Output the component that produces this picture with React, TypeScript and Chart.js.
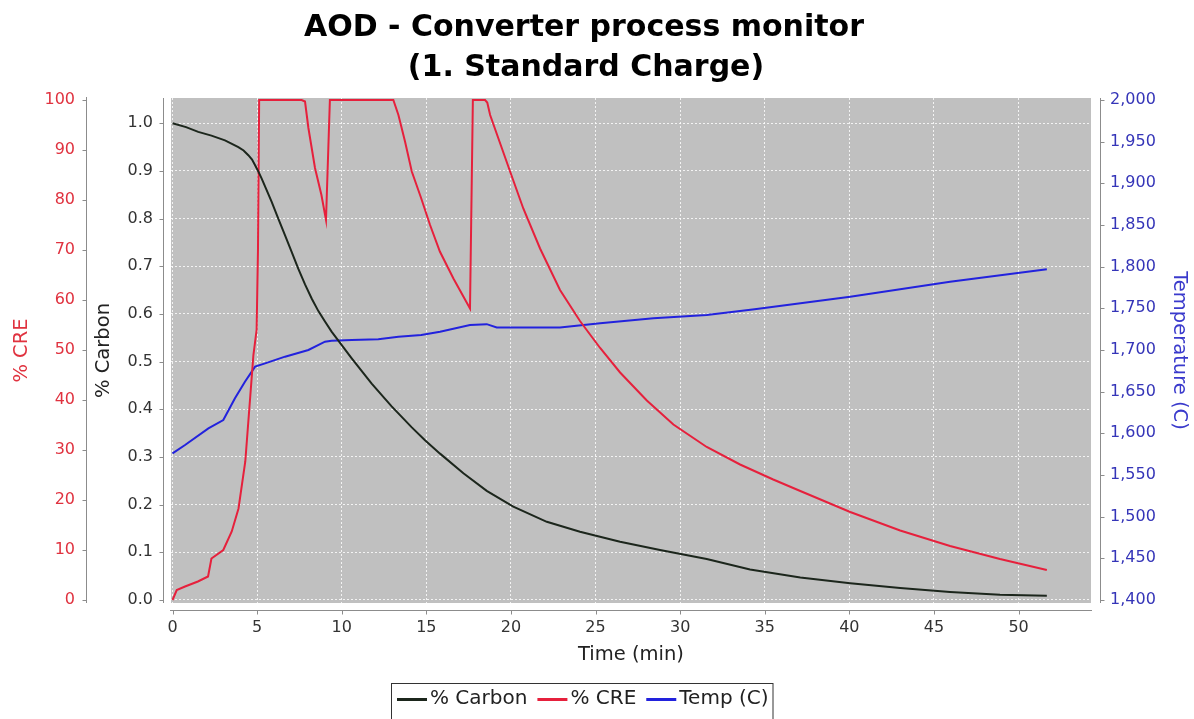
import React, { useEffect, useRef } from "react";
import { Chart, registerables } from "chart.js";

Chart.register(...registerables);

const TITLE_LINES = ["AOD - Converter process monitor", "(1. Standard Charge)"];
const SERIES_NAMES = ["% Carbon", "% CRE", "Temp (C)"];
const SERIES_COLORS = ["#1c261c", "#e6203c", "#2222dd"];

// % Carbon
const carbonTime = [0, 0.8, 1.52, 2.3, 3.1, 3.89, 4.2, 4.48, 4.7, 4.88, 5.07, 5.27, 5.55, 5.86, 6.25, 6.65, 7.04, 7.43, 7.83, 8.23, 8.62, 9.01, 9.4, 9.8, 10.59, 11.77, 12.95, 14.14, 14.92, 15.81, 17.19, 18.57, 20.14, 22.12, 24.08, 26.45, 28.81, 31.57, 34.13, 37.1, 40.05, 43.0, 45.95, 48.9, 51.67];
const carbonValues = [1.0, 0.992, 0.982, 0.974, 0.964, 0.95, 0.943, 0.933, 0.924, 0.912, 0.899, 0.884, 0.861, 0.835, 0.8, 0.765, 0.73, 0.695, 0.662, 0.632, 0.606, 0.584, 0.563, 0.544, 0.507, 0.454, 0.406, 0.362, 0.335, 0.307, 0.266, 0.229, 0.196, 0.164, 0.143, 0.122, 0.105, 0.086, 0.064, 0.047, 0.035, 0.025, 0.017, 0.011, 0.009];

// % CRE
const creTime = [0, 0.25, 0.74, 1.5, 2.1, 2.3, 3.0, 3.5, 3.9, 4.3, 4.6, 4.78, 4.97, 5.05, 5.12, 7.63, 7.83, 8.03, 8.42, 8.8, 9.07, 9.3, 13.05, 13.35, 13.74, 14.14, 14.68, 15.22, 15.8, 16.6, 17.58, 17.75, 18.47, 18.6, 18.77, 19.26, 19.95, 20.73, 21.72, 22.9, 24.08, 25.27, 26.45, 28.03, 29.6, 31.57, 33.54, 35.5, 37.1, 40.05, 43.0, 45.95, 48.9, 51.67];
const creValues = [0, 2, 2.7, 3.7, 4.7, 8.3, 10, 13.7, 18.3, 27.7, 41, 49, 54, 70, 100, 100, 99.7, 94.4, 86.4, 81, 76, 100, 100, 97, 91.7, 85.7, 80.5, 75, 69.7, 64.3, 58.3, 100, 100, 99.5, 97, 92.3, 85.7, 78.3, 70.3, 62, 55.8, 50.4, 45.5, 39.9, 35.1, 30.6, 27.1, 24.1, 21.8, 17.6, 13.9, 10.8, 8.2, 6];

// Temperature (C)
const tempTime = [0, 0.74, 2.12, 3.0, 3.69, 4.28, 4.88, 5.47, 6.65, 8.03, 9.01, 9.4, 10.59, 12.16, 13.35, 14.7, 15.81, 17.58, 18.57, 19.16, 22.9, 25.27, 28.42, 31.57, 34.4, 40.05, 45.95, 51.67];
const tempValues = [1576, 1586, 1606, 1616, 1642, 1662, 1680, 1684, 1692, 1700, 1710, 1711, 1712, 1713, 1716, 1718, 1722, 1730, 1731, 1727, 1727, 1732, 1738, 1742, 1749, 1764, 1782, 1797];

// Tick labels
const timeTicks = [0, 5, 10, 15, 20, 25, 30, 35, 40, 45, 50];
const creTicks = [0, 10, 20, 30, 40, 50, 60, 70, 80, 90, 100];
const carbonTicks = [0, 0.1, 0.2, 0.3, 0.4, 0.5, 0.6, 0.7, 0.8, 0.9, 1.0];
const tempTicks = [1400, 1450, 1500, 1550, 1600, 1650, 1700, 1750, 1800, 1850, 1900, 1950, 2000];

const FONT = "'DejaVu Sans', sans-serif";
const CRE_TEXT = "#e0323f";
const TEMP_TEXT = "#3535b8";
const AXIS_LINE = "#8c8c8c";
const GRID = "rgba(255,255,255,0.8)";

const toPoints = (xs: number[], ys: number[]) => xs.map((x, i) => ({ x, y: ys[i] }));

const decoPlugin = {
  id: "deco",
  beforeDraw(chart: any) {
    const { ctx, chartArea: a } = chart;
    ctx.save();
    ctx.fillStyle = "#ffffff";
    ctx.fillRect(0, 0, chart.width, chart.height);
    ctx.fillStyle = "#c0c0c0";
    ctx.fillRect(a.left, a.top, a.right - a.left, a.bottom - a.top);
    ctx.restore();
  },
  afterDraw(chart: any) {
    const { ctx, chartArea: a, scales } = chart;
    ctx.save();
    ctx.strokeStyle = AXIS_LINE;
    ctx.lineWidth = 1;
    // x axis line
    const xLineY = 610.5;
    ctx.beginPath();
    ctx.moveTo(a.left - 1, xLineY);
    ctx.lineTo(a.right + 1, xLineY);
    for (const v of timeTicks) {
      const px = Math.round(scales.x.getPixelForValue(v)) + 0.5;
      ctx.moveTo(px, xLineY);
      ctx.lineTo(px, xLineY + 4);
    }
    ctx.stroke();
    // CRE axis
    const creX = 86.5;
    ctx.beginPath();
    ctx.moveTo(creX, a.top - 1);
    ctx.lineTo(creX, a.bottom);
    for (const v of creTicks) {
      const py = Math.round(scales.yCre.getPixelForValue(v)) + 0.5;
      ctx.moveTo(creX, py);
      ctx.lineTo(creX - 4, py);
    }
    ctx.stroke();
    // Carbon axis
    const carbonX = 163.5;
    ctx.beginPath();
    ctx.moveTo(carbonX, a.top);
    ctx.lineTo(carbonX, a.bottom);
    for (const v of carbonTicks) {
      const py = Math.round(scales.yCarbon.getPixelForValue(v)) + 0.5;
      ctx.moveTo(carbonX, py);
      ctx.lineTo(carbonX - 4, py);
    }
    ctx.stroke();
    // Temperature axis
    const tempX = 1100.5;
    ctx.beginPath();
    ctx.moveTo(tempX, a.top);
    ctx.lineTo(tempX, a.bottom);
    for (const v of tempTicks) {
      const py = Math.round(scales.yTemp.getPixelForValue(v)) + 0.5;
      ctx.moveTo(tempX, py);
      ctx.lineTo(tempX + 4, py);
    }
    ctx.stroke();

    // Title
    ctx.fillStyle = "#000";
    ctx.textAlign = "center";
    ctx.textBaseline = "alphabetic";
    ctx.font = `bold 30px ${FONT}`;
    ctx.fillText(TITLE_LINES[0], 584, 36);
    ctx.fillText(TITLE_LINES[1], 586, 76);

    // Legend
    ctx.font = `20px ${FONT}`;
    const lineLen = 30;
    const gapAfterLine = 3;
    const gapBetween = 10;
    const boxLeft = 391;
    const boxTop = 683;
    let x = boxLeft + 6;
    const cy = 699;
    ctx.textAlign = "left";
    ctx.textBaseline = "middle";
    SERIES_NAMES.forEach((name, i) => {
      ctx.strokeStyle = SERIES_COLORS[i];
      ctx.lineWidth = 3;
      ctx.beginPath();
      ctx.moveTo(x, cy + 0.5);
      ctx.lineTo(x + lineLen, cy + 0.5);
      ctx.stroke();
      x += lineLen + gapAfterLine;
      ctx.fillStyle = "#222";
      ctx.fillText(name, x, cy);
      x += ctx.measureText(name).width;
      if (i < SERIES_NAMES.length - 1) x += gapBetween;
    });
    const boxRight = x + 4;
    ctx.strokeStyle = "#333";
    ctx.lineWidth = 1;
    ctx.strokeRect(boxLeft + 0.5, boxTop + 0.5, boxRight - boxLeft, 60);
    ctx.restore();
  },
};

export default function App() {
  const canvasRef = useRef<HTMLCanvasElement | null>(null);

  useEffect(() => {
    if (!canvasRef.current) return;
    Chart.defaults.font.family = FONT;
    const chart = new Chart(canvasRef.current, {
      type: "line",
      data: {
        datasets: [
          {
            label: SERIES_NAMES[0],
            data: toPoints(carbonTime, carbonValues),
            borderColor: SERIES_COLORS[0],
            borderWidth: 2,
            pointRadius: 0,
            fill: false,
            tension: 0,
            yAxisID: "yCarbon",
          },
          {
            label: SERIES_NAMES[1],
            data: toPoints(creTime, creValues),
            borderColor: SERIES_COLORS[1],
            borderWidth: 2,
            pointRadius: 0,
            fill: false,
            tension: 0,
            yAxisID: "yCre",
          },
          {
            label: SERIES_NAMES[2],
            data: toPoints(tempTime, tempValues),
            borderColor: SERIES_COLORS[2],
            borderWidth: 2,
            pointRadius: 0,
            fill: false,
            tension: 0,
            yAxisID: "yTemp",
          },
        ],
      },
      options: {
        responsive: false,
        animation: false,
        layout: { padding: { top: 98, bottom: 46, left: 0, right: 0 } },
        plugins: {
          legend: { display: false },
          title: { display: false },
          tooltip: { enabled: false },
        },
        scales: {
          x: {
            type: "linear",
            position: "bottom",
            min: -0.09,
            max: 54.28,
            afterBuildTicks: (s: any) => {
              s.ticks = timeTicks.map((v) => ({ value: v }));
            },
            afterFit: (s: any) => {
              s.height = 70;
            },
            grid: { display: true, drawOnChartArea: true, drawTicks: false, color: GRID, lineWidth: 1 },
            border: { display: false, dash: [2, 2] },
            ticks: { autoSkip: false, maxRotation: 0, padding: 15, color: "#333", font: { size: 16 }, callback: (v: any) => String(v) },
            title: { display: true, text: "Time (min)", color: "#222", font: { size: 19.5 }, padding: { top: 0, bottom: 6 } },
          },
          yCre: {
            type: "linear",
            position: "left",
            weight: 2,
            min: -0.6,
            max: 100.4,
            afterBuildTicks: (s: any) => {
              s.ticks = creTicks.map((v) => ({ value: v }));
            },
            afterFit: (s: any) => {
              s.width = 90;
            },
            grid: { display: false, drawTicks: false },
            border: { display: false },
            ticks: { autoSkip: false, padding: 15, color: CRE_TEXT, font: { size: 16 }, callback: (v: any) => String(v) },
            title: { display: true, text: "% CRE", color: CRE_TEXT, font: { size: 19.5 }, padding: { top: 10, bottom: 0 } },
          },
          yCarbon: {
            type: "linear",
            position: "left",
            weight: 1,
            min: -0.0063,
            max: 1.053,
            afterBuildTicks: (s: any) => {
              s.ticks = carbonTicks.map((v) => ({ value: v }));
            },
            afterFit: (s: any) => {
              s.width = 81;
            },
            grid: { display: true, drawOnChartArea: true, drawTicks: false, color: GRID, lineWidth: 1 },
            border: { display: false, dash: [2, 2] },
            ticks: { autoSkip: false, padding: 18, color: "#333", font: { size: 16 }, callback: (v: any) => Number(v).toFixed(1) },
            title: { display: true, text: "% Carbon", color: "#222", font: { size: 19.5 }, padding: { top: 2, bottom: 0 } },
          },
          yTemp: {
            type: "linear",
            position: "right",
            min: 1396.4,
            max: 2002.4,
            afterBuildTicks: (s: any) => {
              s.ticks = tempTicks.map((v) => ({ value: v }));
            },
            afterFit: (s: any) => {
              s.width = 103;
            },
            grid: { display: false, drawTicks: false },
            border: { display: false },
            ticks: { autoSkip: false, padding: 19, color: TEMP_TEXT, font: { size: 16 }, callback: (v: any) => Number(v).toLocaleString("en-US") },
            title: { display: true, text: "Temperature (C)", color: "#3a3acc", font: { size: 19.5 }, padding: { top: 3, bottom: 0 } },
          },
        },
      },
      plugins: [decoPlugin],
    });
    return () => chart.destroy();
  }, []);

  return (
    <div style={{ position: "fixed", left: 0, top: 0, width: 1194, height: 719, background: "#fff" }}>
      <canvas ref={canvasRef} width={1194} height={719} style={{ display: "block", width: 1194, height: 719 }} />
    </div>
  );
}
